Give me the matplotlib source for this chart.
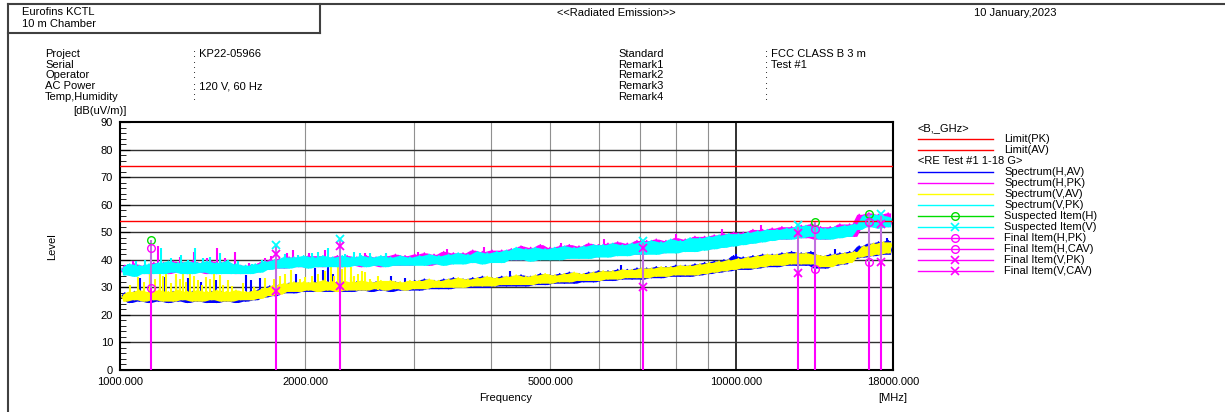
import numpy as np
import matplotlib.pyplot as plt
from matplotlib.ticker import MultipleLocator, NullLocator

plt.rcParams['font.family'] = ['Liberation Sans', 'DejaVu Sans']
plt.rcParams['font.size'] = 8

# Spectrum noise bands in dB(uV/m) on an even log sweep 1 - 18 GHz
h_av = [26, 28, 24.5, 28.5, 25, 28, 24.5, 28.5, 25, 28, 24.5, 28.5, 25, 28, 24.5, 28.5, 25, 28, 24.5, 28.5,
        24.5, 28.5, 25, 28, 24.5, 28, 25, 28.5, 25.5, 29.5, 26.5, 30.5, 27, 31, 28, 31.5, 28, 31.5, 28.5, 31.5,
        28.5, 32, 28.5, 31.5, 28.5, 32, 28.5, 31.5, 28.5, 32, 29, 31.5, 28.5, 32, 29, 31.5, 28.5, 32, 29, 31.5,
        29, 32.5, 29, 33, 29.5, 32.5, 29.5, 33, 29.5, 33.5, 30, 33, 30, 33.5, 30, 34, 30, 33.5, 30.5, 34,
        30.5, 34, 30.5, 34.5, 30.5, 34, 31, 35, 31, 34.5, 31.5, 35, 31.5, 35.5, 31.5, 35, 32, 35.5, 32, 36,
        32.5, 36, 32.5, 36.5, 33, 36.5, 33, 37, 33, 37, 33.5, 37.5, 33.5, 37.5, 34, 38, 34, 38, 34, 38.5,
        34.5, 39, 35, 39.5, 35.5, 40, 36, 41.5, 36.5, 41, 36.5, 41.5, 37, 42, 37.5, 42, 37.5, 42.5, 38, 43,
        38, 42.5, 38, 43, 37, 41.5, 37, 42, 38, 42.5, 38.5, 43, 40.5, 45, 41, 46, 41.5, 46.5, 42, 47,
        42]
h_pk = [35, 38, 34.5, 38.5, 35, 38, 35, 39, 35.5, 39, 35, 39.5, 35.5, 39, 35, 39.5, 35.5, 39, 35, 39.5,
        35, 39, 35.5, 38.5, 35, 38, 35, 38, 35.5, 39, 36.5, 40, 37, 40.5, 37, 41, 37.5, 41, 37.5, 41.5,
        37.5, 41.5, 37.5, 41, 38, 41.5, 37.5, 41.5, 38, 41, 37.5, 41.5, 38, 41, 37.5, 41.5, 38, 42, 38, 41.5,
        38, 42, 38.5, 42.5, 38, 42, 38.5, 43, 38.5, 42.5, 39, 42.5, 39, 43.5, 39, 43, 39, 43.5, 39.5, 43.5,
        40, 44, 40, 45, 40, 44.5, 40, 45.5, 40.5, 44.5, 40.5, 45, 40.5, 45.5, 41, 45, 41, 46, 41, 45.5,
        41.5, 46, 41.5, 46.5, 42, 46, 42, 47, 42, 47, 42.5, 47.5, 42.5, 47, 43, 48, 43, 47.5, 43.5, 48.5,
        44, 48.5, 44, 49, 44.5, 49.5, 45, 50, 45.5, 50, 46, 51, 46.5, 51, 47, 51.5, 47.5, 52, 47.5, 52,
        48, 52.5, 48, 53, 47.5, 52, 47.5, 52, 48, 53, 48.5, 53, 48.5, 56.5, 52, 57, 52, 56.5, 52, 57,
        52]
v_av = [27.5, 25, 28.5, 25.5, 29, 25, 28.5, 25.5, 29, 25, 28.5, 25, 29, 25.5, 28.5, 25, 29, 25, 28.5, 25.5,
        29, 25, 28.5, 25, 29, 25.5, 28.5, 25.5, 29, 26, 30, 27, 31, 27.5, 31.5, 28.5, 32, 28.5, 32, 29,
        32, 28.5, 32.5, 29, 32, 28.5, 32.5, 29, 32, 29, 32.5, 29, 32, 29.5, 32.5, 29, 32.5, 29.5, 32, 29,
        32.5, 29.5, 32.5, 29.5, 33, 30, 32.5, 30, 33, 30, 33.5, 30, 33, 30.5, 33.5, 30.5, 34, 30.5, 33.5, 31,
        34, 31, 34.5, 31, 34, 31, 34.5, 31.5, 35, 31.5, 34.5, 32, 35, 32, 35.5, 32.5, 35, 32.5, 35.5, 32.5,
        36, 33, 36, 33, 36.5, 33.5, 36.5, 33.5, 37, 33.5, 37, 34, 37.5, 34, 37.5, 34.5, 38, 34.5, 38, 34.5,
        38.5, 35, 39, 35.5, 39.5, 36, 40, 36.5, 40.5, 37, 41, 37, 41.5, 37.5, 42, 38, 42, 38, 42.5, 38.5,
        42.5, 38.5, 42.5, 38.5, 42, 37.5, 41.5, 37.5, 42, 38.5, 42.5, 39, 43, 41, 45, 41.5, 46, 42, 46.5, 42.5,
        46.5]
v_pk = [37.5, 34.5, 38.5, 34, 38, 35, 38.5, 35, 39, 35, 39.5, 35.5, 39, 35, 39.5, 35, 39, 35.5, 39.5, 35,
        39, 35, 39.5, 35, 38.5, 35, 38, 35, 38.5, 35.5, 39.5, 36.5, 40, 37, 41, 37, 41, 37.5, 41.5, 37,
        41, 37.5, 41.5, 37.5, 41, 37.5, 41.5, 37.5, 41, 38, 41.5, 37.5, 41, 38, 41.5, 37.5, 41, 38, 41.5, 38,
        41, 38, 41.5, 38, 42, 38.5, 41.5, 38, 42, 38.5, 42.5, 38.5, 42, 39, 43, 38.5, 42.5, 39, 43, 39,
        43.5, 40, 44.5, 40, 44, 39.5, 44.5, 40, 44, 40, 44.5, 40, 45, 40.5, 44.5, 40.5, 45, 40.5, 45.5, 41,
        45.5, 41, 46, 41.5, 45.5, 41.5, 46, 42, 46.5, 42, 47, 42, 46.5, 42.5, 47.5, 42.5, 47, 43, 48, 43,
        48, 43.5, 48.5, 44, 49, 44.5, 49.5, 45, 49.5, 45.5, 50, 46, 50.5, 46.5, 51, 47, 51, 47.5, 51.5, 47.5,
        52, 48, 52.5, 48.5, 52, 47.5, 51.5, 47.5, 52, 48, 52.5, 48.5, 53, 51, 56, 52, 56.5, 51.5, 56, 52,
        55.5]

# narrow spikes sticking out of the bands: frequency (MHz), foot and tip (dB(uV/m))
h_av_spk_f = [1078, 1119, 1183, 1233, 1290, 1354, 1432, 1602, 1632, 1688,
              1931, 2074, 2137, 2177, 2218, 2372, 2750, 2900, 4300, 6500, 10000, 14500, 17600]
h_av_spk_lo = [27] * 10 + [29] * 6 + [30, 30, 31, 34, 38, 40, 43]
h_av_spk = [33.3, 35, 33.9, 32.6, 33.3, 32, 32.6, 34.5, 32.6, 33.3,
            35, 36.9, 36.3, 37.5, 35, 33.9, 34, 33.5, 36, 38, 42, 44, 48]

h_pk_spk_f = [1050, 1153, 1250, 1319, 1384, 1437, 1480, 1538, 1620, 1720,
              1760, 1870, 1910, 2030, 2153, 2259, 2372, 2500, 2700,
              3050, 3400, 3900, 4500, 5200, 6100, 8000, 9500, 11000]
h_pk_spk_lo = [37] * 10 + [38] * 9 + [39, 39, 40, 40, 41, 42, 44, 45, 47]
h_pk_spk = [39.5, 45, 41, 42.9, 40.8, 44.3, 40.5, 42.9, 39, 40.8,
            41.5, 42.5, 43.6, 42.5, 43.6, 41, 40.5, 42.5, 42,
            43, 44, 44.5, 45, 46, 47.5, 49.5, 51, 52.5]

v_av_spk_f = [1040, 1070, 1095, 1119, 1140, 1161, 1175, 1188, 1210, 1233, 1250, 1266, 1280, 1300,
              1320, 1339, 1360, 1379, 1400, 1420, 1453, 1470, 1497, 1520, 1584, 1650, 1720,
              1780, 1820, 1854, 1896, 1960, 2000, 2050, 2097, 2150, 2202, 2230, 2259, 2290, 2320,
              2372, 2400, 2435, 2470, 2500, 2550, 2620]
v_av_spk_lo = [27] * 27 + [29] * 21
v_av_spk = [31, 33.9, 32, 35, 33, 38, 34, 36.3, 31.5, 35, 33, 36.3, 32, 35,
            34, 32.6, 31, 33.9, 33, 35, 34.5, 31, 32.6, 30.5, 31.4, 30, 33.3,
            33, 34, 35, 36.3, 33, 33.9, 34, 35, 36, 38.6, 34, 39.8, 36.5, 38,
            37.3, 34, 35, 36, 35.6, 33, 34]

v_pk_spk_f = [1030, 1060, 1100, 1166, 1210, 1256, 1290, 1324, 1364, 1400, 1453, 1500, 1555, 1640, 1700,
              1850, 1946, 2050, 2100, 2177, 2320, 2400, 2450, 2550, 2700]
v_pk_spk_lo = [37] * 15 + [38] * 10
v_pk_spk = [38.5, 39.5, 40, 44.3, 40.5, 41.8, 40, 44.3, 40.8, 41, 42.6, 40, 39.6, 38.5, 40,
            42, 41.8, 42.5, 43, 44.3, 42, 43, 42.5, 42.5, 42.5]

limit_pk = 74
limit_av = 54

# Suspected / final items (MHz, dB(uV/m))
h_freq = [1123, 13450, 16450]
h_susp = [47.2, 53.8, 56.7]
h_fin_pk = [44.3, 51.0, 53.8]
h_fin_cav = [29.8, 36.5, 39.3]
v_freq = [1792, 2277, 7070, 12620, 17190]
v_susp = [45.4, 47.5, 46.8, 52.6, 56.5]
v_fin_pk = [42.0, 45.0, 44.4, 49.8, 52.9]
v_fin_cav = [28.7, 30.5, 30.1, 35.3, 39.3]

x_ticks = [1000, 2000, 5000, 10000, 18000]
grid_freqs = [2000, 3000, 4000, 5000, 6000, 7000, 8000, 9000]

MAG = '#ff00ff'

fig = plt.figure(figsize=(12.25, 4.12), dpi=100)

# page overlay in pixel coordinates for the report header and legend
page = fig.add_axes([0, 0, 1, 1])
page.set_xlim(0, 1225)
page.set_ylim(412, 0)
page.axis('off')

frame = '#404040'
page.plot([8, 1225], [4, 4], color=frame, lw=1.5)
page.plot([8, 8], [4, 412], color=frame, lw=1.5)
page.plot([320, 320], [4, 33], color=frame, lw=1.5)
page.plot([8, 320], [33, 33], color=frame, lw=1.5)

page.text(22, 12, 'Eurofins KCTL', va='center')
page.text(22, 24, '10 m Chamber', va='center')
page.text(557, 13, '<<Radiated Emission>>', va='center')
page.text(1057, 13, '10 January,2023', va='center', ha='right')

left_lab = ['Project', 'Serial', 'Operator', 'AC Power', 'Temp,Humidity']
left_val = [': KP22-05966', ':', ':', ': 120 V, 60 Hz', ':']
right_lab = ['Standard', 'Remark1', 'Remark2', 'Remark3', 'Remark4']
right_val = [': FCC CLASS B 3 m', ': Test #1', ':', ':', ':']
for k in range(5):
    y = 54 + k * 10.7
    page.text(45, y, left_lab[k], va='center')
    page.text(193, y, left_val[k], va='center')
    page.text(618, y, right_lab[k], va='center')
    page.text(765, y, right_val[k], va='center')

page.text(73, 111, '[dB(uV/m)]', va='center')
page.text(52, 247, 'Level', va='center', ha='center', rotation=90)
page.text(506, 398, 'Frequency', va='center', ha='center')
page.text(893, 398, '[MHz]', va='center', ha='center')

# legend
leg = [('<B,_GHz>', None, None),
       ('Limit(PK)', 'red', None),
       ('Limit(AV)', 'red', None),
       ('<RE Test #1 1-18 G>', None, None),
       ('Spectrum(H,AV)', 'blue', None),
       ('Spectrum(H,PK)', MAG, None),
       ('Spectrum(V,AV)', '#ffff00', None),
       ('Spectrum(V,PK)', '#00ffff', None),
       ('Suspected Item(H)', '#00dd00', 'o'),
       ('Suspected Item(V)', '#00ffff', 'x'),
       ('Final Item(H,PK)', MAG, 'o'),
       ('Final Item(H,CAV)', MAG, 'o'),
       ('Final Item(V,PK)', MAG, 'x'),
       ('Final Item(V,CAV)', MAG, 'x')]
for k, (lab, col, mk) in enumerate(leg):
    y = 128 + k * 11
    if col is None:
        page.text(918, y, lab, va='center')
        continue
    page.plot([918, 993], [y, y], color=col, lw=1)
    if mk == 'o':
        page.plot([955], [y], 'o', ms=5.5, mfc='none', mec=col, mew=1)
    elif mk == 'x':
        page.plot([955], [y], 'x', ms=5.5, color=col, mew=1.2)
    page.text(1004, y, lab, va='center')

# main plot
ax = fig.add_axes([120 / 1225, 42 / 412, 773 / 1225, 248 / 412])
ax.set_xscale('log')
ax.set_xlim(1000, 18000)
ax.set_ylim(0, 90)

for f in grid_freqs:
    ax.axvline(f, color='#909090', lw=0.8, zorder=1)
ax.axvline(10000, color='#202020', lw=1.3, zorder=1)
for lv in range(10, 90, 10):
    ax.axhline(lv, color='#303030', lw=1, zorder=1)

traces = [(h_av, h_av_spk_f, h_av_spk_lo, h_av_spk, 'blue'),
          (h_pk, h_pk_spk_f, h_pk_spk_lo, h_pk_spk, MAG),
          (v_av, v_av_spk_f, v_av_spk_lo, v_av_spk, '#ffff00'),
          (v_pk, v_pk_spk_f, v_pk_spk_lo, v_pk_spk, '#00ffff')]
for data, sf, slo, shi, col in traces:
    d = np.array(data)
    fr = np.geomspace(1000, 18000, len(d))
    # noise band between neighbouring sweep points, then the raw trace on top
    fm = np.sqrt(fr[:-1] * fr[1:])
    ax.fill_between(fm, np.minimum(d[:-1], d[1:]), np.maximum(d[:-1], d[1:]),
                    color=col, lw=0, zorder=2)
    ax.plot(fr, d, color=col, lw=1, zorder=2)
    ax.vlines(sf, slo, shi, color=col, lw=1.5, zorder=2)

ax.axhline(limit_pk, color='red', lw=1, zorder=3)
ax.axhline(limit_av, color='red', lw=1, zorder=3)

ax.vlines(h_freq, 0, h_fin_cav, color=MAG, lw=1.5, zorder=4)
ax.vlines(h_freq, h_fin_cav, h_susp, color='#c070e0', lw=1.5, zorder=4)
ax.vlines(v_freq, 0, v_fin_cav, color=MAG, lw=1.5, zorder=4)
ax.vlines(v_freq, v_fin_cav, v_susp, color='#c070e0', lw=1.5, zorder=4)

ax.plot(h_freq, h_susp, 'o', ms=5.5, mfc='none', mec='#00dd00', mew=1, zorder=5)
ax.plot(v_freq, v_susp, 'x', ms=6, color='#00ffff', mew=1.3, zorder=5)
ax.plot(h_freq, h_fin_pk, 'o', ms=5.5, mfc='none', mec=MAG, mew=1, zorder=5)
ax.plot(h_freq, h_fin_cav, 'o', ms=5.5, mfc='none', mec=MAG, mew=1, zorder=5)
ax.plot(v_freq, v_fin_pk, 'x', ms=6, color=MAG, mew=1.3, zorder=5)
ax.plot(v_freq, v_fin_cav, 'x', ms=6, color=MAG, mew=1.3, zorder=5)

ax.set_xticks(x_ticks)
ax.set_xticklabels(['%.3f' % f for f in x_ticks])
ax.xaxis.set_minor_locator(NullLocator())
ax.tick_params(axis='x', length=0, pad=5, labelsize=8)
ax.set_yticks(range(0, 91, 10))
ax.yaxis.set_minor_locator(MultipleLocator(2))
ax.tick_params(axis='y', which='major', direction='in', length=7, pad=5, labelsize=8)
ax.tick_params(axis='y', which='minor', direction='in', length=4.5)
for s in ax.spines.values():
    s.set_color('black')
    s.set_linewidth(1.5)

fig.savefig('out.png', dpi=100)
